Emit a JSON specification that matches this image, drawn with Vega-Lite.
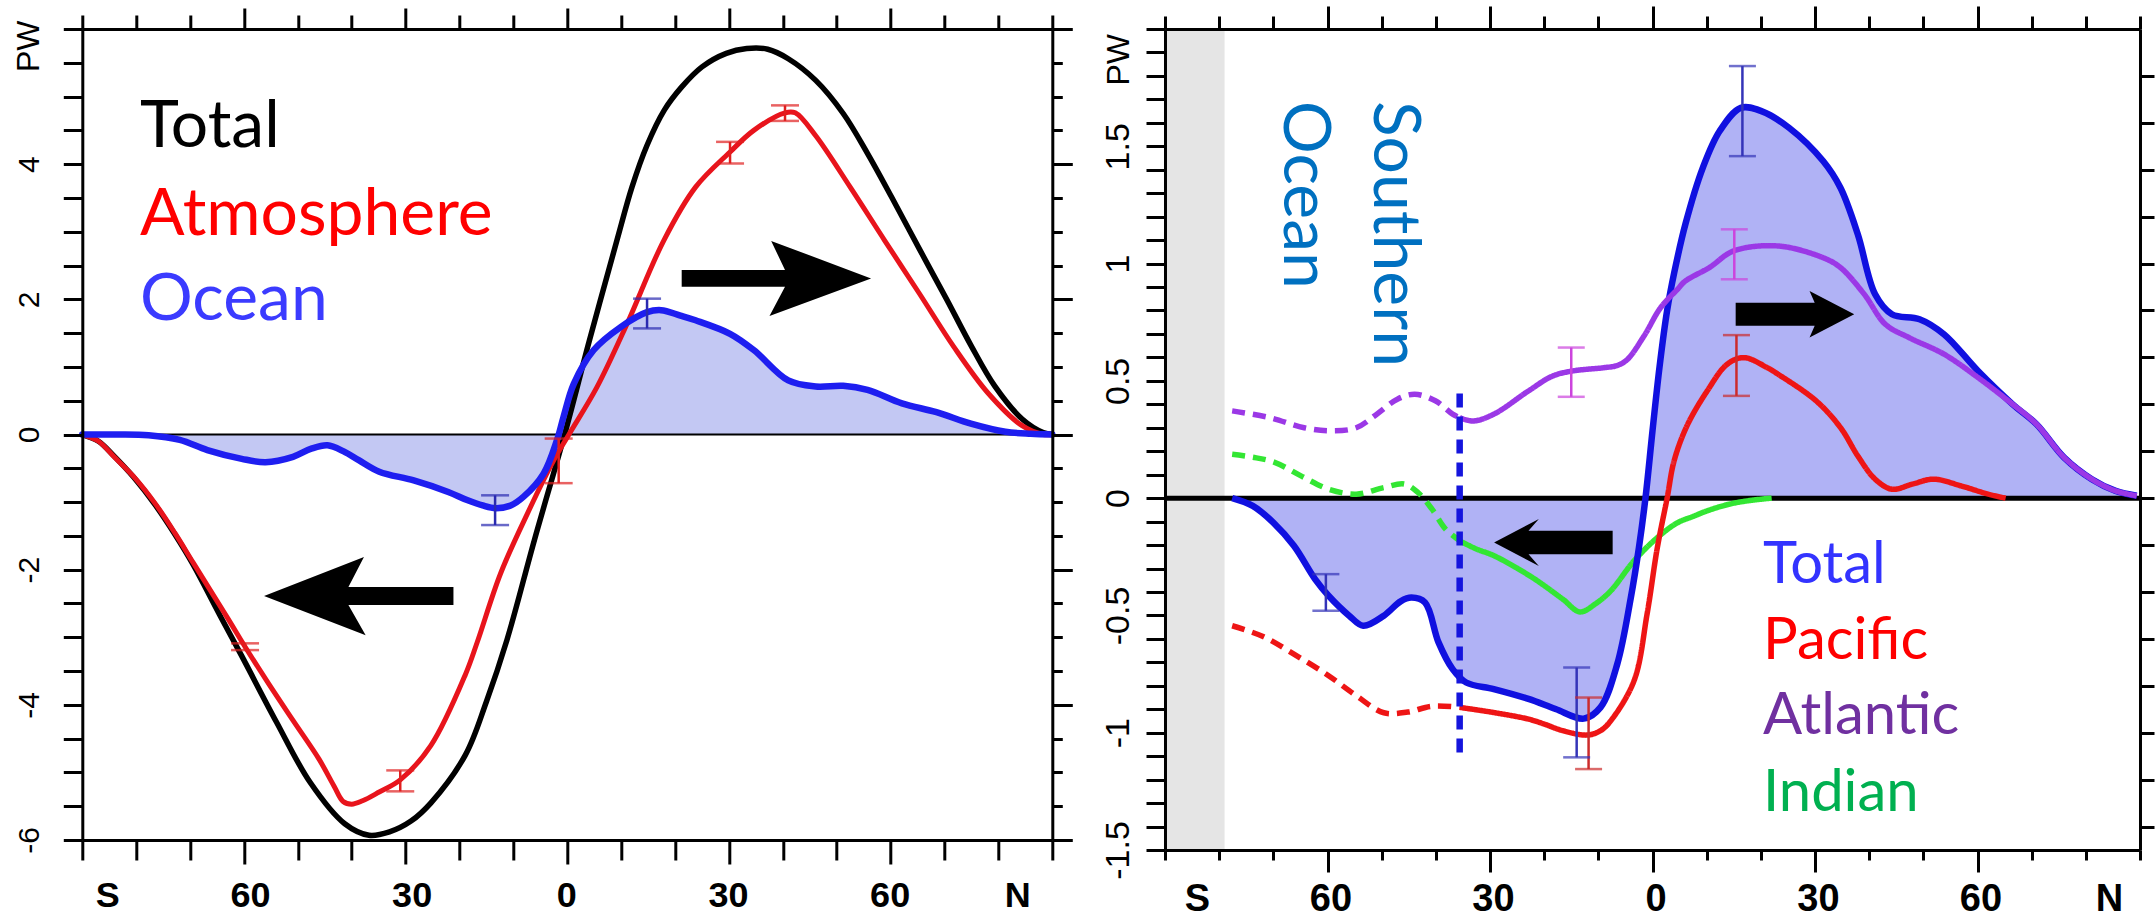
{
"$schema":"https://vega.github.io/schema/vega-lite/v6.json",
"padding":{"left":12.3,"top":4,"right":0,"bottom":0},
"background":"white",
"config":{"view":{"stroke":null},"axis":{"grid":false}},
"spacing":112.7,
"bounds":"flush",
"datasets":{
"zero":[{"v":0}],
"L_lines":[
{"s":"Total","lat":-90,"v":0},{"s":"Total","lat":-87,"v":-0.1},{"s":"Total","lat":-84.1,"v":-0.32},{"s":"Total","lat":-80.5,"v":-0.63},{"s":"Total","lat":-76.4,"v":-1.05},{"s":"Total","lat":-72.8,"v":-1.48},{"s":"Total","lat":-69.4,"v":-1.93},{"s":"Total","lat":-64.3,"v":-2.7},{"s":"Total","lat":-60.4,"v":-3.28},{"s":"Total","lat":-54.0,"v":-4.25},{"s":"Total","lat":-47.7,"v":-5.15},{"s":"Total","lat":-41.3,"v":-5.76},{"s":"Total","lat":-36.8,"v":-5.93},{"s":"Total","lat":-33.0,"v":-5.88},{"s":"Total","lat":-29.0,"v":-5.72},{"s":"Total","lat":-25.3,"v":-5.45},{"s":"Total","lat":-18.9,"v":-4.74},{"s":"Total","lat":-15.0,"v":-3.95},{"s":"Total","lat":-11.2,"v":-3.04},{"s":"Total","lat":-6.1,"v":-1.56},{"s":"Total","lat":-0.5,"v":0},{"s":"Total","lat":4.1,"v":1.39},{"s":"Total","lat":9.2,"v":2.87},{"s":"Total","lat":12.0,"v":3.66},{"s":"Total","lat":14.8,"v":4.28},{"s":"Total","lat":18.0,"v":4.80},{"s":"Total","lat":21.2,"v":5.14},{"s":"Total","lat":25.0,"v":5.44},{"s":"Total","lat":29.5,"v":5.64},{"s":"Total","lat":33.3,"v":5.71},{"s":"Total","lat":37.2,"v":5.70},{"s":"Total","lat":41.0,"v":5.56},{"s":"Total","lat":46.1,"v":5.24},{"s":"Total","lat":51.2,"v":4.75},{"s":"Total","lat":55.7,"v":4.16},{"s":"Total","lat":60.2,"v":3.51},{"s":"Total","lat":65.3,"v":2.75},{"s":"Total","lat":70.4,"v":2.0},{"s":"Total","lat":74.9,"v":1.32},{"s":"Total","lat":79.3,"v":0.72},{"s":"Total","lat":84.4,"v":0.23},{"s":"Total","lat":88.3,"v":0.03},{"s":"Total","lat":90,"v":0},
{"s":"Atmosphere","lat":-90,"v":0},{"s":"Atmosphere","lat":-87,"v":-0.1},{"s":"Atmosphere","lat":-84.1,"v":-0.33},{"s":"Atmosphere","lat":-80.5,"v":-0.62},{"s":"Atmosphere","lat":-76.4,"v":-1.03},{"s":"Atmosphere","lat":-72.8,"v":-1.46},{"s":"Atmosphere","lat":-69.4,"v":-1.9},{"s":"Atmosphere","lat":-63.0,"v":-2.72},{"s":"Atmosphere","lat":-59.8,"v":-3.14},{"s":"Atmosphere","lat":-55.4,"v":-3.69},{"s":"Atmosphere","lat":-50.9,"v":-4.23},{"s":"Atmosphere","lat":-46.1,"v":-4.8},{"s":"Atmosphere","lat":-43.3,"v":-5.2},{"s":"Atmosphere","lat":-41.6,"v":-5.43},{"s":"Atmosphere","lat":-40.0,"v":-5.47},{"s":"Atmosphere","lat":-38.0,"v":-5.42},{"s":"Atmosphere","lat":-34.9,"v":-5.29},{"s":"Atmosphere","lat":-31.0,"v":-5.11},{"s":"Atmosphere","lat":-25.3,"v":-4.6},{"s":"Atmosphere","lat":-18.9,"v":-3.55},{"s":"Atmosphere","lat":-16.7,"v":-3.07},{"s":"Atmosphere","lat":-12.4,"v":-2.06},{"s":"Atmosphere","lat":-7.4,"v":-1.17},{"s":"Atmosphere","lat":-2.5,"v":-0.38},{"s":"Atmosphere","lat":0.3,"v":0},{"s":"Atmosphere","lat":5.5,"v":0.7},{"s":"Atmosphere","lat":11.1,"v":1.64},{"s":"Atmosphere","lat":17.9,"v":2.87},{"s":"Atmosphere","lat":23.8,"v":3.66},{"s":"Atmosphere","lat":30.2,"v":4.18},{"s":"Atmosphere","lat":34.6,"v":4.5},{"s":"Atmosphere","lat":40.4,"v":4.76},{"s":"Atmosphere","lat":42.3,"v":4.76},{"s":"Atmosphere","lat":46.1,"v":4.42},{"s":"Atmosphere","lat":52.5,"v":3.66},{"s":"Atmosphere","lat":58.9,"v":2.87},{"s":"Atmosphere","lat":65.3,"v":2.09},{"s":"Atmosphere","lat":71.7,"v":1.3},{"s":"Atmosphere","lat":78.1,"v":0.61},{"s":"Atmosphere","lat":84.4,"v":0.13},{"s":"Atmosphere","lat":88.3,"v":0},{"s":"Atmosphere","lat":90,"v":0},
{"s":"Ocean","lat":-90,"v":0},{"s":"Ocean","lat":-84,"v":0},{"s":"Ocean","lat":-77.7,"v":-0.01},{"s":"Ocean","lat":-71.9,"v":-0.08},{"s":"Ocean","lat":-66.8,"v":-0.23},{"s":"Ocean","lat":-60.4,"v":-0.36},{"s":"Ocean","lat":-56.0,"v":-0.41},{"s":"Ocean","lat":-50.9,"v":-0.33},{"s":"Ocean","lat":-47.5,"v":-0.21},{"s":"Ocean","lat":-44.5,"v":-0.16},{"s":"Ocean","lat":-41.5,"v":-0.25},{"s":"Ocean","lat":-38.7,"v":-0.38},{"s":"Ocean","lat":-34.9,"v":-0.55},{"s":"Ocean","lat":-28.5,"v":-0.68},{"s":"Ocean","lat":-22.1,"v":-0.85},{"s":"Ocean","lat":-18.6,"v":-0.97},{"s":"Ocean","lat":-15.7,"v":-1.05},{"s":"Ocean","lat":-13.3,"v":-1.09},{"s":"Ocean","lat":-10.5,"v":-1.05},{"s":"Ocean","lat":-8.1,"v":-0.92},{"s":"Ocean","lat":-4.4,"v":-0.58},{"s":"Ocean","lat":-1.9,"v":-0.08},{"s":"Ocean","lat":-0.7,"v":0.26},{"s":"Ocean","lat":1.2,"v":0.75},{"s":"Ocean","lat":4.9,"v":1.25},{"s":"Ocean","lat":9.9,"v":1.59},{"s":"Ocean","lat":14.8,"v":1.81},{"s":"Ocean","lat":17.4,"v":1.84},{"s":"Ocean","lat":21.0,"v":1.76},{"s":"Ocean","lat":23.8,"v":1.69},{"s":"Ocean","lat":30.2,"v":1.49},{"s":"Ocean","lat":34.6,"v":1.25},{"s":"Ocean","lat":41.0,"v":0.80},{"s":"Ocean","lat":46.1,"v":0.71},{"s":"Ocean","lat":51.2,"v":0.72},{"s":"Ocean","lat":55.7,"v":0.66},{"s":"Ocean","lat":62.1,"v":0.46},{"s":"Ocean","lat":68.5,"v":0.33},{"s":"Ocean","lat":74.9,"v":0.16},{"s":"Ocean","lat":81.3,"v":0.04},{"s":"Ocean","lat":86,"v":0.01},{"s":"Ocean","lat":90,"v":0}
],
"L_err":[
{"s":"Ocean","lat":-13.4,"lo":-1.34,"hi":-0.90},{"s":"Ocean","lat":14.8,"lo":1.57,"hi":2.01},
{"s":"Atmosphere","lat":-59.8,"lo":-3.19,"hi":-3.09},{"s":"Atmosphere","lat":-31.0,"lo":-5.28,"hi":-4.97},{"s":"Atmosphere","lat":-1.6,"lo":-0.72,"hi":-0.06},{"s":"Atmosphere","lat":30.2,"lo":4.01,"hi":4.33},{"s":"Atmosphere","lat":40.4,"lo":4.64,"hi":4.87}
],
"L_text":[
{"t":"Total","lat":-79.3,"v":4.25},{"t":"Atmosphere","lat":-79.3,"v":2.95},{"t":"Ocean","lat":-79.3,"v":1.69}
],
"L_arrows":[
{"dir":"left","lat":-38.7,"v":-2.39},{"dir":"right","lat":38.8,"v":2.31}
],
"R_lines":[
{"s":"Indian","d":"dash","lat":-77.6,"v":0.187},{"s":"Indian","d":"dash","lat":-74,"v":0.175},{"s":"Indian","d":"dash","lat":-70.0,"v":0.155},{"s":"Indian","d":"dash","lat":-64.9,"v":0.095},{"s":"Indian","d":"dash","lat":-59.8,"v":0.038},{"s":"Indian","d":"dash","lat":-54.7,"v":0.017},{"s":"Indian","d":"dash","lat":-49.6,"v":0.045},{"s":"Indian","d":"dash","lat":-45.8,"v":0.06},{"s":"Indian","d":"dash","lat":-43.3,"v":0.024},{"s":"Indian","d":"dash","lat":-40.7,"v":-0.047},{"s":"Indian","d":"dash","lat":-38.2,"v":-0.132},{"s":"Indian","d":"dash","lat":-35.6,"v":-0.182},
{"s":"Indian","d":"solid","lat":-35.6,"v":-0.182},{"s":"Indian","d":"solid","lat":-32.5,"v":-0.217},{"s":"Indian","d":"solid","lat":-29.3,"v":-0.245},{"s":"Indian","d":"solid","lat":-22.4,"v":-0.335},{"s":"Indian","d":"solid","lat":-16.6,"v":-0.43},{"s":"Indian","d":"solid","lat":-13.4,"v":-0.485},{"s":"Indian","d":"solid","lat":-10.5,"v":-0.45},{"s":"Indian","d":"solid","lat":-7.7,"v":-0.395},{"s":"Indian","d":"solid","lat":-3.4,"v":-0.267},{"s":"Indian","d":"solid","lat":0.9,"v":-0.168},{"s":"Indian","d":"solid","lat":4.6,"v":-0.105},{"s":"Indian","d":"solid","lat":7.5,"v":-0.078},{"s":"Indian","d":"solid","lat":10.1,"v":-0.054},{"s":"Indian","d":"solid","lat":14.3,"v":-0.025},{"s":"Indian","d":"solid","lat":18,"v":-0.01},{"s":"Indian","d":"solid","lat":22,"v":0},
{"s":"Pacific","d":"dash","lat":-77.6,"v":-0.544},{"s":"Pacific","d":"dash","lat":-71.9,"v":-0.59},{"s":"Pacific","d":"dash","lat":-66.2,"v":-0.665},{"s":"Pacific","d":"dash","lat":-59.8,"v":-0.757},{"s":"Pacific","d":"dash","lat":-54.7,"v":-0.842},{"s":"Pacific","d":"dash","lat":-49.6,"v":-0.915},{"s":"Pacific","d":"dash","lat":-45.2,"v":-0.912},{"s":"Pacific","d":"dash","lat":-40.7,"v":-0.887},{"s":"Pacific","d":"dash","lat":-35.6,"v":-0.892},
{"s":"Pacific","d":"solid","lat":-35.6,"v":-0.892},{"s":"Pacific","d":"solid","lat":-29.3,"v":-0.914},{"s":"Pacific","d":"solid","lat":-22.9,"v":-0.942},{"s":"Pacific","d":"solid","lat":-20.0,"v":-0.963},{"s":"Pacific","d":"solid","lat":-16.6,"v":-0.991},{"s":"Pacific","d":"solid","lat":-12.0,"v":-1.01},{"s":"Pacific","d":"solid","lat":-9.5,"v":-0.99},{"s":"Pacific","d":"solid","lat":-7.7,"v":-0.949},{"s":"Pacific","d":"solid","lat":-3.4,"v":-0.778},{"s":"Pacific","d":"solid","lat":-1.0,"v":-0.494},{"s":"Pacific","d":"solid","lat":0.9,"v":-0.21},{"s":"Pacific","d":"solid","lat":2.7,"v":0},{"s":"Pacific","d":"solid","lat":4.0,"v":0.16},{"s":"Pacific","d":"solid","lat":6.4,"v":0.31},{"s":"Pacific","d":"solid","lat":10.1,"v":0.457},{"s":"Pacific","d":"solid","lat":13.8,"v":0.571},{"s":"Pacific","d":"solid","lat":16.9,"v":0.599},{"s":"Pacific","d":"solid","lat":21.2,"v":0.556},{"s":"Pacific","d":"solid","lat":23.2,"v":0.528},{"s":"Pacific","d":"solid","lat":30.2,"v":0.415},{"s":"Pacific","d":"solid","lat":34.7,"v":0.301},{"s":"Pacific","d":"solid","lat":37.9,"v":0.18},{"s":"Pacific","d":"solid","lat":41.1,"v":0.081},{"s":"Pacific","d":"solid","lat":44.2,"v":0.038},{"s":"Pacific","d":"solid","lat":48,"v":0.06},{"s":"Pacific","d":"solid","lat":51.9,"v":0.081},{"s":"Pacific","d":"solid","lat":57.0,"v":0.052},{"s":"Pacific","d":"solid","lat":62.0,"v":0.017},{"s":"Pacific","d":"solid","lat":65.2,"v":0},
{"s":"Total","d":"solid","lat":-77.6,"v":0},{"s":"Total","d":"solid","lat":-73.8,"v":-0.033},{"s":"Total","d":"solid","lat":-70.0,"v":-0.104},{"s":"Total","d":"solid","lat":-66.2,"v":-0.203},{"s":"Total","d":"solid","lat":-62.3,"v":-0.345},{"s":"Total","d":"solid","lat":-59.8,"v":-0.416},{"s":"Total","d":"solid","lat":-56.0,"v":-0.501},{"s":"Total","d":"solid","lat":-53.4,"v":-0.544},{"s":"Total","d":"solid","lat":-49.6,"v":-0.501},{"s":"Total","d":"solid","lat":-46.5,"v":-0.44},{"s":"Total","d":"solid","lat":-44.5,"v":-0.424},{"s":"Total","d":"solid","lat":-42.0,"v":-0.445},{"s":"Total","d":"solid","lat":-39.5,"v":-0.615},{"s":"Total","d":"solid","lat":-36.9,"v":-0.729},{"s":"Total","d":"solid","lat":-34.4,"v":-0.786},{"s":"Total","d":"solid","lat":-29.3,"v":-0.814},{"s":"Total","d":"solid","lat":-22.9,"v":-0.856},{"s":"Total","d":"solid","lat":-17.9,"v":-0.899},{"s":"Total","d":"solid","lat":-12.7,"v":-0.94},{"s":"Total","d":"solid","lat":-9.6,"v":-0.892},{"s":"Total","d":"solid","lat":-6.5,"v":-0.707},{"s":"Total","d":"solid","lat":-4.0,"v":-0.424},{"s":"Total","d":"solid","lat":-2.5,"v":-0.21},{"s":"Total","d":"solid","lat":-1.3,"v":0},{"s":"Total","d":"solid","lat":0,"v":0.287},{"s":"Total","d":"solid","lat":1.3,"v":0.56},{"s":"Total","d":"solid","lat":2.7,"v":0.8},{"s":"Total","d":"solid","lat":4.0,"v":0.96},{"s":"Total","d":"solid","lat":6.1,"v":1.17},{"s":"Total","d":"solid","lat":9.3,"v":1.409},{"s":"Total","d":"solid","lat":12.4,"v":1.565},{"s":"Total","d":"solid","lat":16.3,"v":1.664},{"s":"Total","d":"solid","lat":20.1,"v":1.65},{"s":"Total","d":"solid","lat":25.2,"v":1.579},{"s":"Total","d":"solid","lat":31.5,"v":1.437},{"s":"Total","d":"solid","lat":34.7,"v":1.323},{"s":"Total","d":"solid","lat":37.9,"v":1.125},{"s":"Total","d":"solid","lat":41.1,"v":0.869},{"s":"Total","d":"solid","lat":44.2,"v":0.784},{"s":"Total","d":"solid","lat":49.3,"v":0.763},{"s":"Total","d":"solid","lat":53.8,"v":0.699},{"s":"Total","d":"solid","lat":60.1,"v":0.542},{"s":"Total","d":"solid","lat":66.5,"v":0.40},{"s":"Total","d":"solid","lat":70.9,"v":0.315},{"s":"Total","d":"solid","lat":76.0,"v":0.173},{"s":"Total","d":"solid","lat":81.1,"v":0.081},{"s":"Total","d":"solid","lat":85.5,"v":0.031},{"s":"Total","d":"solid","lat":89.4,"v":0.01},
{"s":"Atlantic","d":"dash","lat":-77.6,"v":0.372},{"s":"Atlantic","d":"dash","lat":-70.6,"v":0.343},{"s":"Atlantic","d":"dash","lat":-64.3,"v":0.30},{"s":"Atlantic","d":"dash","lat":-59.2,"v":0.287},{"s":"Atlantic","d":"dash","lat":-54.7,"v":0.30},{"s":"Atlantic","d":"dash","lat":-50.9,"v":0.358},{"s":"Atlantic","d":"dash","lat":-47.1,"v":0.422},{"s":"Atlantic","d":"dash","lat":-43.9,"v":0.443},{"s":"Atlantic","d":"dash","lat":-40.1,"v":0.415},{"s":"Atlantic","d":"dash","lat":-36.9,"v":0.358},{"s":"Atlantic","d":"dash","lat":-35.6,"v":0.343},
{"s":"Atlantic","d":"solid","lat":-35.6,"v":0.343},{"s":"Atlantic","d":"solid","lat":-33.1,"v":0.329},{"s":"Atlantic","d":"solid","lat":-29.3,"v":0.358},{"s":"Atlantic","d":"solid","lat":-22.9,"v":0.457},{"s":"Atlantic","d":"solid","lat":-18.5,"v":0.52},{"s":"Atlantic","d":"solid","lat":-14.8,"v":0.542},{"s":"Atlantic","d":"solid","lat":-9.0,"v":0.556},{"s":"Atlantic","d":"solid","lat":-6.6,"v":0.565},{"s":"Atlantic","d":"solid","lat":-4.7,"v":0.59},{"s":"Atlantic","d":"solid","lat":-1.6,"v":0.69},{"s":"Atlantic","d":"solid","lat":1.5,"v":0.812},{"s":"Atlantic","d":"solid","lat":4.6,"v":0.89},{"s":"Atlantic","d":"solid","lat":6.1,"v":0.926},{"s":"Atlantic","d":"solid","lat":10.5,"v":0.983},{"s":"Atlantic","d":"solid","lat":15.0,"v":1.054},{"s":"Atlantic","d":"solid","lat":23.2,"v":1.075},{"s":"Atlantic","d":"solid","lat":31.5,"v":1.025},{"s":"Atlantic","d":"solid","lat":34.7,"v":0.983},{"s":"Atlantic","d":"solid","lat":39.1,"v":0.869},{"s":"Atlantic","d":"solid","lat":43.0,"v":0.741},{"s":"Atlantic","d":"solid","lat":47.4,"v":0.684},{"s":"Atlantic","d":"solid","lat":53.8,"v":0.614},{"s":"Atlantic","d":"solid","lat":60.1,"v":0.514},{"s":"Atlantic","d":"solid","lat":66.5,"v":0.40},{"s":"Atlantic","d":"solid","lat":70.9,"v":0.315},{"s":"Atlantic","d":"solid","lat":76.0,"v":0.173},{"s":"Atlantic","d":"solid","lat":81.1,"v":0.081},{"s":"Atlantic","d":"solid","lat":85.5,"v":0.031},{"s":"Atlantic","d":"solid","lat":89.4,"v":0.01}
],
"R_err":[
{"s":"Total","lat":-60.3,"lo":-0.480,"hi":-0.324},{"s":"Total","lat":-14.0,"lo":-1.105,"hi":-0.722},{"s":"Total","lat":16.6,"lo":1.458,"hi":1.842},
{"s":"Pacific","lat":-11.8,"lo":-1.155,"hi":-0.850},{"s":"Pacific","lat":15.5,"lo":0.436,"hi":0.695},
{"s":"Atlantic","lat":-15.0,"lo":0.432,"hi":0.642},{"s":"Atlantic","lat":15.1,"lo":0.933,"hi":1.146}
],
"R_band":[{"lat":-90,"lat2":-79}],
"R_vline":[{"lat":-35.6,"lo":-1.084,"hi":0.45}],
"R_stext":[{"t":"Southern","lat":-51.5,"v":1.693},{"t":"Ocean","lat":-68.1,"v":1.693}],
"R_legend":[{"t":"Total","lat":20.4,"v":-0.36},{"t":"Pacific","lat":20.4,"v":-0.686},{"t":"Atlantic","lat":20.4,"v":-1.006},{"t":"Indian","lat":20.4,"v":-1.332}],
"R_arrows":[{"dir":"left","lat":-18.3,"v":-0.189},{"dir":"right","lat":26.3,"v":0.784}]
},
"hconcat":[
{
"width":970,"height":811,
"layer":[
{"data":{"name":"L_lines"},"transform":[{"filter":"datum.s==='Ocean'"}],
 "mark":{"type":"area","color":"#c3c8f3","interpolate":"catmull-rom"},
 "encoding":{
  "x":{"field":"lat","type":"quantitative","scale":{"domain":[-90,90],"nice":false,"zero":false},
   "axis":{"orient":"bottom","values":[-90,-80,-70,-60,-50,-40,-30,-20,-10,0,10,20,30,40,50,60,70,80,90],"zindex":1,
    "labelExpr":"datum.value===-90?'S':(datum.value===90?'N':(datum.value%30===0?''+abs(datum.value):''))",
    "labelFont":"Liberation Sans","labelFontWeight":"bold","labelFontSize":36,"labelColor":"#000","labelBaseline":"alphabetic","labelAlign":"center","labelFlush":false,"labelOverlap":false,"labelBound":false,
    "labelPadding":{"condition":{"test":"abs(datum.value)===90","value":46.7},"value":42.7},
    "labelOffset":{"condition":[{"test":"datum.value===-90","value":25},{"test":"datum.value===90","value":-35},{"test":"datum.value<0","value":6}],"value":-1},
    "tickSize":{"condition":{"test":"datum.value%30===0 && abs(datum.value)<90","value":24},"value":20},
    "tickWidth":3,"tickColor":"#000","domainColor":"#000","domainWidth":3,"title":null,"grid":false}},
  "y":{"field":"v","type":"quantitative","scale":{"domain":[-6,6],"nice":false,"zero":false},
   "axis":{"orient":"left","values":[-6,-5.5,-5,-4.5,-4,-3.5,-3,-2.5,-2,-1.5,-1,-0.5,0,0.5,1,1.5,2,2.5,3,3.5,4,4.5,5,5.5,6],"zindex":1,
    "labelExpr":"(datum.value%2===0 && datum.value<6) ? ((datum.value<0?'-':'')+abs(datum.value)) : ''",
    "labelAngle":-90,"labelAlign":"center","labelBaseline":"alphabetic","labelFont":"Liberation Sans","labelFontSize":30,"labelColor":"#000","labelPadding":24.5,"labelOverlap":false,"labelBound":false,"labelFlush":false,
    "tickSize":19,"tickWidth":3,"tickColor":"#000","domainColor":"#000","domainWidth":3,"grid":false,
    "title":"PW","titleFont":"Liberation Sans","titleFontSize":32,"titleFontWeight":"normal","titleColor":"#000","titleAngle":-90,"titleAlign":"right","titleBaseline":"alphabetic","titleX":-43.8,"titleY":-9}},
  "y2":{"datum":0}
 }},
{"data":{"name":"zero"},
 "mark":{"type":"rule","color":"#000","strokeWidth":2},
 "encoding":{"y":{"field":"v","type":"quantitative","scale":{"domain":[-6,6],"nice":false,"zero":false},"axis":null}}},
{"data":{"name":"L_lines"},"transform":[{"filter":"datum.s==='Total'"}],
 "mark":{"type":"line","interpolate":"catmull-rom","strokeCap":"round","strokeJoin":"round","color":"#000000","strokeWidth":5.5},
 "encoding":{
  "x":{"field":"lat","type":"quantitative","scale":{"domain":[-90,90],"nice":false,"zero":false},
   "axis":{"orient":"top","values":[-90,-80,-70,-60,-50,-40,-30,-20,-10,0,10,20,30,40,50,60,70,80,90],"zindex":1,"labels":false,
    "tickSize":{"condition":{"test":"datum.value%30===0 && abs(datum.value)<90","value":21},"value":14},
    "tickWidth":3,"tickColor":"#000","domainColor":"#000","domainWidth":3,"title":null,"grid":false}},
  "y":{"field":"v","type":"quantitative","scale":{"domain":[-6,6],"nice":false,"zero":false},
   "axis":{"orient":"right","values":[-6,-5.5,-5,-4.5,-4,-3.5,-3,-2.5,-2,-1.5,-1,-0.5,0,0.5,1,1.5,2,2.5,3,3.5,4,4.5,5,5.5,6],"zindex":1,"labels":false,
    "tickSize":{"condition":{"test":"datum.value%2===0","value":20},"value":10},
    "tickWidth":3,"tickColor":"#000","domainColor":"#000","domainWidth":3,"title":null,"grid":false}}
 }},
{"data":{"name":"L_lines"},"transform":[{"filter":"datum.s==='Atmosphere'"}],
 "mark":{"type":"line","interpolate":"catmull-rom","strokeCap":"round","strokeJoin":"round","color":"#e8141c","strokeWidth":5},
 "encoding":{
  "x":{"field":"lat","type":"quantitative","scale":{"domain":[-90,90],"nice":false,"zero":false},"axis":null},
  "y":{"field":"v","type":"quantitative","scale":{"domain":[-6,6],"nice":false,"zero":false},"axis":null}
 }},
{"data":{"name":"L_lines"},"transform":[{"filter":"datum.s==='Ocean'"}],
 "mark":{"type":"line","interpolate":"catmull-rom","strokeCap":"round","strokeJoin":"round","color":"#1e1ef0","strokeWidth":6.5},
 "encoding":{
  "x":{"field":"lat","type":"quantitative","scale":{"domain":[-90,90],"nice":false,"zero":false},"axis":null},
  "y":{"field":"v","type":"quantitative","scale":{"domain":[-6,6],"nice":false,"zero":false},"axis":null}
 }},
{"data":{"name":"L_err"},
 "mark":{"type":"rule","strokeWidth":2.5},
 "encoding":{
  "x":{"field":"lat","type":"quantitative","scale":{"domain":[-90,90],"nice":false,"zero":false},"axis":null},
  "y":{"field":"lo","type":"quantitative","scale":{"domain":[-6,6],"nice":false,"zero":false},"axis":null},
  "y2":{"field":"hi"},
  "color":{"field":"s","type":"nominal","scale":{"domain":["Ocean","Atmosphere"],"range":["#2a2ab0","#e01f1f"]},"legend":null}
 }},
{"data":{"name":"L_err"},
 "mark":{"type":"tick","orient":"horizontal","size":28,"thickness":2.5},
 "encoding":{
  "x":{"field":"lat","type":"quantitative","scale":{"domain":[-90,90],"nice":false,"zero":false},"axis":null},
  "y":{"field":"lo","type":"quantitative","scale":{"domain":[-6,6],"nice":false,"zero":false},"axis":null},
  "color":{"field":"s","type":"nominal","scale":{"domain":["Ocean","Atmosphere"],"range":["#2a2ab0","#e01f1f"]},"legend":null}
 }},
{"data":{"name":"L_err"},
 "mark":{"type":"tick","orient":"horizontal","size":28,"thickness":2.5},
 "encoding":{
  "x":{"field":"lat","type":"quantitative","scale":{"domain":[-90,90],"nice":false,"zero":false},"axis":null},
  "y":{"field":"hi","type":"quantitative","scale":{"domain":[-6,6],"nice":false,"zero":false},"axis":null},
  "color":{"field":"s","type":"nominal","scale":{"domain":["Ocean","Atmosphere"],"range":["#2a2ab0","#e01f1f"]},"legend":null}
 }},
{"data":{"name":"L_arrows"},
 "mark":{"type":"point","filled":true,"opacity":1,"size":35870,"color":"#000","strokeWidth":0},
 "encoding":{
  "x":{"field":"lat","type":"quantitative","scale":{"domain":[-90,90],"nice":false,"zero":false},"axis":null},
  "y":{"field":"v","type":"quantitative","scale":{"domain":[-6,6],"nice":false,"zero":false},"axis":null},
  "shape":{"field":"dir","type":"nominal","scale":{"domain":["left","right"],"range":["M-1,0L0.055,-0.413L-0.109,-0.096L1,-0.096L1,0.096L-0.109,0.096L0.073,0.414Z","M1,0L-0.055,-0.396L0.091,-0.088L-1,-0.088L-1,0.088L0.091,0.088L-0.073,0.396Z"]},"legend":null}
 }},
{"data":{"name":"L_text"},
 "mark":{"type":"text","font":"Lato","fontSize":66,"align":"left","baseline":"alphabetic"},
 "encoding":{
  "x":{"field":"lat","type":"quantitative","scale":{"domain":[-90,90],"nice":false,"zero":false},"axis":null},
  "y":{"field":"v","type":"quantitative","scale":{"domain":[-6,6],"nice":false,"zero":false},"axis":null},
  "text":{"field":"t"},
  "color":{"field":"t","type":"nominal","scale":{"domain":["Total","Atmosphere","Ocean"],"range":["#000000","#ff0000","#3b3bff"]},"legend":null}
 }}
],
"resolve":{"scale":{"color":"independent","shape":"independent"},"axis":{"x":"independent","y":"independent"}}
},
{
"width":975,"height":821,
"layer":[
{"data":{"name":"R_band"},
 "mark":{"type":"rect","color":"#e5e5e5"},
 "encoding":{
  "x":{"field":"lat","type":"quantitative","scale":{"domain":[-90,90],"nice":false,"zero":false},
   "axis":{"orient":"bottom","values":[-90,-80,-70,-60,-50,-40,-30,-20,-10,0,10,20,30,40,50,60,70,80,90],"zindex":1,
    "labelExpr":"datum.value===-90?'S':(datum.value===90?'N':(datum.value%30===0?''+abs(datum.value):''))",
    "labelFont":"Liberation Sans","labelFontWeight":"bold","labelFontSize":38,"labelColor":"#000","labelBaseline":"alphabetic","labelAlign":"center","labelFlush":false,"labelOverlap":false,"labelBound":false,
    "labelPadding":{"condition":{"test":"abs(datum.value)===90","value":50.7},"value":38.7},
    "labelOffset":{"condition":[{"test":"datum.value===-90","value":32},{"test":"datum.value===90","value":-31}],"value":3},
    "tickSize":{"condition":{"test":"datum.value%30===0 && abs(datum.value)<90","value":22},"value":10},
    "tickWidth":3,"tickColor":"#000","domainColor":"#000","domainWidth":3,"title":null,"grid":false}},
  "x2":{"field":"lat2"},
  "y":{"datum":2,"type":"quantitative","scale":{"domain":[-1.5,2],"nice":false,"zero":false},
   "axis":{"orient":"left","values":[-1.5,-1.4,-1.3,-1.2,-1.1,-1,-0.9,-0.8,-0.7,-0.6,-0.5,-0.4,-0.3,-0.2,-0.1,0,0.1,0.2,0.3,0.4,0.5,0.6,0.7,0.8,0.9,1,1.1,1.2,1.3,1.4,1.5,1.6,1.7,1.8,1.9,2],"zindex":1,
    "labelExpr":"(abs(datum.value*2-round(datum.value*2))<0.001 && datum.value<1.9) ? ((datum.value<0?'-':'')+abs(datum.value)) : ''",
    "labelAngle":-90,"labelAlign":"center","labelBaseline":"alphabetic","labelFont":"Liberation Sans","labelFontSize":34,"labelColor":"#000","labelPadding":17.2,"labelOverlap":false,"labelBound":false,"labelFlush":false,
    "tickSize":19,"tickWidth":3,"tickColor":"#000","domainColor":"#000","domainWidth":3,"grid":false,
    "title":"PW","titleFont":"Liberation Sans","titleFontSize":32,"titleFontWeight":"normal","titleColor":"#000","titleAngle":-90,"titleAlign":"right","titleBaseline":"alphabetic","titleX":-36.2,"titleY":4.5}},
  "y2":{"datum":-1.5}
 }},
{"data":{"name":"R_lines"},"transform":[{"filter":"datum.s==='Total'"}],
 "mark":{"type":"area","color":"#b0b2f5","interpolate":"catmull-rom"},
 "encoding":{
  "x":{"field":"lat","type":"quantitative","scale":{"domain":[-90,90],"nice":false,"zero":false},"axis":null},
  "y":{"field":"v","type":"quantitative","scale":{"domain":[-1.5,2],"nice":false,"zero":false},"axis":null},
  "y2":{"datum":0}
 }},
{"data":{"name":"zero"},
 "mark":{"type":"rule","color":"#000","strokeWidth":5},
 "encoding":{"y":{"field":"v","type":"quantitative","scale":{"domain":[-1.5,2],"nice":false,"zero":false},"axis":null}}},
{"data":{"name":"R_lines"},"transform":[{"filter":"datum.s==='Indian'"}],
 "mark":{"type":"line","interpolate":"catmull-rom","strokeCap":"butt","strokeJoin":"round","color":"#33e633","strokeWidth":5.5},
 "encoding":{
  "x":{"field":"lat","type":"quantitative","scale":{"domain":[-90,90],"nice":false,"zero":false},
   "axis":{"orient":"top","values":[-90,-80,-70,-60,-50,-40,-30,-20,-10,0,10,20,30,40,50,60,70,80,90],"zindex":1,"labels":false,
    "tickSize":{"condition":{"test":"datum.value%30===0 && abs(datum.value)<90","value":23},"value":13},
    "tickWidth":3,"tickColor":"#000","domainColor":"#000","domainWidth":3,"title":null,"grid":false}},
  "y":{"field":"v","type":"quantitative","scale":{"domain":[-1.5,2],"nice":false,"zero":false},
   "axis":{"orient":"right","values":[-1.4,-1.2,-1,-0.8,-0.6,-0.4,-0.2,0,0.2,0.4,0.6,0.8,1,1.2,1.4,1.6,1.8],"zindex":1,"labels":false,
    "tickSize":14,"tickWidth":3,"tickColor":"#000","domainColor":"#000","domainWidth":3,"title":null,"grid":false}},
  "strokeDash":{"field":"d","type":"nominal","scale":{"domain":["solid","dash"],"range":[[1,0],[13,8]]},"legend":null}
 }},
{"data":{"name":"R_lines"},"transform":[{"filter":"datum.s==='Pacific'"}],
 "mark":{"type":"line","interpolate":"catmull-rom","strokeCap":"butt","strokeJoin":"round","color":"#ee1515","strokeWidth":5.5},
 "encoding":{
  "x":{"field":"lat","type":"quantitative","scale":{"domain":[-90,90],"nice":false,"zero":false},"axis":null},
  "y":{"field":"v","type":"quantitative","scale":{"domain":[-1.5,2],"nice":false,"zero":false},"axis":null},
  "strokeDash":{"field":"d","type":"nominal","scale":{"domain":["solid","dash"],"range":[[1,0],[13,8]]},"legend":null}
 }},
{"data":{"name":"R_lines"},"transform":[{"filter":"datum.s==='Total'"}],
 "mark":{"type":"line","interpolate":"catmull-rom","strokeCap":"butt","strokeJoin":"round","color":"#1010e0","strokeWidth":6.5},
 "encoding":{
  "x":{"field":"lat","type":"quantitative","scale":{"domain":[-90,90],"nice":false,"zero":false},"axis":null},
  "y":{"field":"v","type":"quantitative","scale":{"domain":[-1.5,2],"nice":false,"zero":false},"axis":null}
 }},
{"data":{"name":"R_lines"},"transform":[{"filter":"datum.s==='Atlantic'"}],
 "mark":{"type":"line","interpolate":"catmull-rom","strokeCap":"butt","strokeJoin":"round","color":"#9b38e6","strokeWidth":5.5},
 "encoding":{
  "x":{"field":"lat","type":"quantitative","scale":{"domain":[-90,90],"nice":false,"zero":false},"axis":null},
  "y":{"field":"v","type":"quantitative","scale":{"domain":[-1.5,2],"nice":false,"zero":false},"axis":null},
  "strokeDash":{"field":"d","type":"nominal","scale":{"domain":["solid","dash"],"range":[[1,0],[13,8]]},"legend":null}
 }},
{"data":{"name":"R_vline"},
 "mark":{"type":"rule","color":"#1515dd","strokeWidth":6.5,"strokeDash":[14,9]},
 "encoding":{
  "x":{"field":"lat","type":"quantitative","scale":{"domain":[-90,90],"nice":false,"zero":false},"axis":null},
  "y":{"field":"lo","type":"quantitative","scale":{"domain":[-1.5,2],"nice":false,"zero":false},"axis":null},
  "y2":{"field":"hi"}
 }},
{"data":{"name":"R_err"},
 "mark":{"type":"rule","strokeWidth":2.5},
 "encoding":{
  "x":{"field":"lat","type":"quantitative","scale":{"domain":[-90,90],"nice":false,"zero":false},"axis":null},
  "y":{"field":"lo","type":"quantitative","scale":{"domain":[-1.5,2],"nice":false,"zero":false},"axis":null},
  "y2":{"field":"hi"},
  "color":{"field":"s","type":"nominal","scale":{"domain":["Total","Pacific","Atlantic"],"range":["#3434b8","#cc2b2b","#cc44dd"]},"legend":null}
 }},
{"data":{"name":"R_err"},
 "mark":{"type":"tick","orient":"horizontal","size":27,"thickness":2.5},
 "encoding":{
  "x":{"field":"lat","type":"quantitative","scale":{"domain":[-90,90],"nice":false,"zero":false},"axis":null},
  "y":{"field":"lo","type":"quantitative","scale":{"domain":[-1.5,2],"nice":false,"zero":false},"axis":null},
  "color":{"field":"s","type":"nominal","scale":{"domain":["Total","Pacific","Atlantic"],"range":["#3434b8","#cc2b2b","#cc44dd"]},"legend":null}
 }},
{"data":{"name":"R_err"},
 "mark":{"type":"tick","orient":"horizontal","size":27,"thickness":2.5},
 "encoding":{
  "x":{"field":"lat","type":"quantitative","scale":{"domain":[-90,90],"nice":false,"zero":false},"axis":null},
  "y":{"field":"hi","type":"quantitative","scale":{"domain":[-1.5,2],"nice":false,"zero":false},"axis":null},
  "color":{"field":"s","type":"nominal","scale":{"domain":["Total","Pacific","Atlantic"],"range":["#3434b8","#cc2b2b","#cc44dd"]},"legend":null}
 }},
{"data":{"name":"R_arrows"},
 "mark":{"type":"point","filled":true,"opacity":1,"size":14060,"color":"#000","strokeWidth":0},
 "encoding":{
  "x":{"field":"lat","type":"quantitative","scale":{"domain":[-90,90],"nice":false,"zero":false},"axis":null},
  "y":{"field":"v","type":"quantitative","scale":{"domain":[-1.5,2],"nice":false,"zero":false},"axis":null},
  "shape":{"field":"dir","type":"nominal","scale":{"domain":["left","right"],"range":["M-1,0L-0.245,-0.395L-0.419,-0.197L1,-0.197L1,0.197L-0.419,0.197L-0.245,0.395Z","M1,0L0.246,-0.392L0.333,-0.195L-1,-0.195L-1,0.195L0.333,0.195L0.246,0.392Z"]},"legend":null}
 }},
{"data":{"name":"R_stext"},
 "mark":{"type":"text","font":"Lato","fontSize":66,"align":"left","baseline":"alphabetic","angle":90,"color":"#0070c0"},
 "encoding":{
  "x":{"field":"lat","type":"quantitative","scale":{"domain":[-90,90],"nice":false,"zero":false},"axis":null},
  "y":{"field":"v","type":"quantitative","scale":{"domain":[-1.5,2],"nice":false,"zero":false},"axis":null},
  "text":{"field":"t"}
 }},
{"data":{"name":"R_legend"},
 "mark":{"type":"text","font":"Lato","fontSize":58,"align":"left","baseline":"alphabetic"},
 "encoding":{
  "x":{"field":"lat","type":"quantitative","scale":{"domain":[-90,90],"nice":false,"zero":false},"axis":null},
  "y":{"field":"v","type":"quantitative","scale":{"domain":[-1.5,2],"nice":false,"zero":false},"axis":null},
  "text":{"field":"t"},
  "color":{"field":"t","type":"nominal","scale":{"domain":["Total","Pacific","Atlantic","Indian"],"range":["#3333ff","#ff0000","#7030a0","#00b050"]},"legend":null}
 }}
],
"resolve":{"scale":{"color":"independent","shape":"independent","strokeDash":"independent"},"axis":{"x":"independent","y":"independent"}}
}
]
}
